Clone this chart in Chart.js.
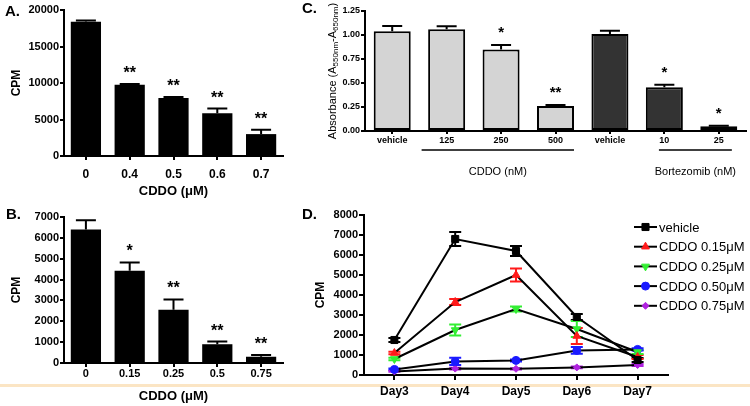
<!DOCTYPE html>
<html>
<head>
<meta charset="utf-8">
<script src="https://cdn.jsdelivr.net/npm/chart.js@4.4.1/dist/chart.umd.min.js"></script>
<style>
  body { margin: 0; background: #fff; width: 750px; height: 406px; position: relative; overflow: hidden;
         font-family: "Liberation Sans", Arial, sans-serif; }
  .panel { position: absolute; }
  .tag { position: absolute; font-weight: bold; font-size: 15px; line-height: 16px; }
  #sep { position: absolute; left: 0; top: 384px; width: 750px; height: 3px; background: #fbe5c4; }
</style>
</head>
<body>
<div id="sep"></div>
<div class="panel" style="left:0;top:0"><canvas id="chartA" width="300" height="200"></canvas></div>
<div class="panel" style="left:0;top:200px"><canvas id="chartB" width="300" height="206"></canvas></div>
<div class="panel" style="left:260px;top:0"><canvas id="chartC" width="490" height="200"></canvas></div>
<div class="panel" style="left:260px;top:200px"><canvas id="chartD" width="490" height="206"></canvas></div>
<div class="tag" style="left:5px;top:3px">A.</div>
<div class="tag" style="left:6px;top:206px">B.</div>
<div class="tag" style="left:302px;top:0px">C.</div>
<div class="tag" style="left:302px;top:206px">D.</div>

<script>
const FONT = '"Liberation Sans", Arial, sans-serif';
Chart.defaults.font.family = FONT;
Chart.defaults.color = '#000';

// panel A
const catsA = ['0', '0.4', '0.5', '0.6', '0.7'];
const valsA = [18400, 9750, 7950, 5850, 3000];
const errA = [150, 120, 120, 650, 580];
const starsA = ['', '**', '**', '**', '**'];

// panel B
const catsB = ['0', '0.15', '0.25', '0.5', '0.75'];
const valsB = [6400, 4420, 2550, 900, 300];
const errB = [450, 400, 500, 130, 80];
const starsB = ['', '*', '**', '**', '**'];

// panel C
const catsC = ['vehicle', '125', '250', '500', 'vehicle', '10', '25'];
const valsC = [1.04, 1.06, 0.85, 0.26, 1.01, 0.455, 0.05];
const errC = [0.055, 0.03, 0.045, 0.01, 0.035, 0.027, 0.005];
const starsC = ['', '', '*', '**', '', '*', '*'];
const groupsC = [
  { label: 'CDDO (nM)', from: 0.54, to: 3.34 },
  { label: 'Bortezomib (nM)', from: 4.9, to: 6.24 }
];

// panel D
const days = ['Day3', 'Day4', 'Day5', 'Day6', 'Day7'];
const seriesD = [
  { name: 'vehicle',        color: '#000000', style: 'rect',     rot: 0,   r: 5,   vals: [1750, 6800, 6200, 2900, 750],  err: [100, 350, 250, 150, 100] },
  { name: 'CDDO 0.15\u03bcM', color: '#ff1a1a', style: 'triangle', rot: 0,   r: 4.5, vals: [1100, 3650, 5000, 1950, 900],  err: [60, 150, 320, 400, 100] },
  { name: 'CDDO 0.25\u03bcM', color: '#33ee33', style: 'triangle', rot: 180, r: 4.5, vals: [800, 2250, 3300, 2300, 1150],  err: [60, 280, 130, 400, 100] },
  { name: 'CDDO 0.50\u03bcM', color: '#1a1aff', style: 'circle',   rot: 0,   r: 4,   vals: [280, 680, 730, 1230, 1280],    err: [40, 180, 50, 170, 60] },
  { name: 'CDDO 0.75\u03bcM', color: '#b022e0', style: 'rectRot',  rot: 0,   r: 3.5, vals: [180, 320, 310, 380, 500],      err: [20, 40, 30, 40, 50] }
];

function fixedWidth(w) { return function (axis) { axis.width = w; }; }
function fixedHeight(h) { return function (axis) { axis.height = h; }; }

// error bars (upper only) + significance stars on a bar chart
function barExtras(errors, stars, cap, gap, starSize) {
  return {
    id: 'barExtras',
    afterDatasetsDraw(chart) {
      const ctx = chart.ctx;
      const y = chart.scales.y;
      const vals = chart.data.datasets[0].data;
      const meta = chart.getDatasetMeta(0);
      ctx.save();
      ctx.strokeStyle = '#000';
      ctx.fillStyle = '#000';
      ctx.lineWidth = 2;
      ctx.font = 'bold ' + starSize + 'px ' + FONT;
      ctx.textAlign = 'center';
      ctx.textBaseline = 'alphabetic';
      meta.data.forEach((bar, i) => {
        const base = y.getPixelForValue(vals[i]);
        const top = y.getPixelForValue(vals[i] + errors[i]);
        ctx.beginPath();
        ctx.moveTo(bar.x, base);
        ctx.lineTo(bar.x, top);
        ctx.moveTo(bar.x - cap / 2, top);
        ctx.lineTo(bar.x + cap / 2, top);
        ctx.stroke();
        if (stars[i]) ctx.fillText(stars[i], bar.x, top - gap);
      });
      ctx.restore();
    }
  };
}

function barChart(id, cats, vals, colors, yMax, yStep, opts) {
  return new Chart(document.getElementById(id), {
    type: 'bar',
    data: {
      labels: cats,
      datasets: [{
        data: vals,
        backgroundColor: colors,
        borderColor: '#000',
        borderWidth: opts.borderWidth,
        borderSkipped: false,
        barPercentage: opts.barPct,
        categoryPercentage: 1
      }]
    },
    options: {
      responsive: false,
      animation: false,
      layout: { padding: opts.padding },
      plugins: { legend: { display: false }, tooltip: { enabled: false } },
      scales: {
        x: {
          offset: true,
          afterFit: fixedHeight(opts.xHeight),
          grid: { offset: false, drawOnChartArea: false, color: '#000', lineWidth: 2, tickLength: opts.xTick },
          border: { color: '#000', width: 2 },
          ticks: { font: { size: opts.xFont, weight: 'bold' }, padding: opts.xPad, maxRotation: 0, autoSkip: false },
          title: opts.xTitle ? { display: true, text: opts.xTitle, font: { size: 13, weight: 'bold' }, padding: { top: 0, bottom: opts.xTitlePad } } : { display: false }
        },
        y: {
          min: 0, max: yMax,
          afterFit: fixedWidth(opts.yWidth),
          grid: { drawOnChartArea: false, color: '#000', lineWidth: 2, tickLength: opts.yTick },
          border: { color: '#000', width: 2 },
          ticks: { stepSize: yStep, font: { size: opts.yFont, weight: 'bold' }, padding: 1, callback: opts.yFmt },
          title: opts.yTitle ? { display: true, text: opts.yTitle, font: { size: 12, weight: 'bold' }, padding: { top: opts.yTitlePad, bottom: 0 } } : { display: false }
        }
      }
    },
    plugins: opts.plugins
  });
}

barChart('chartA', catsA, valsA, '#000', 20000, 5000, {
  borderWidth: 0, barPct: 0.69, padding: { left: 0, top: 10, right: 17, bottom: 0 },
  xHeight: 44, xTick: 4, xFont: 12, xPad: 7, xTitle: 'CDDO (\u03bcM)', xTitlePad: 1,
  yWidth: 64, yTick: 4, yFont: 11, yTitle: 'CPM', yTitlePad: 9, yFmt: v => String(v),
  plugins: [barExtras(errA, starsA, 20, 6, 16)]
});

barChart('chartB', catsB, valsB, '#000', 7000, 1000, {
  borderWidth: 0, barPct: 0.69, padding: { left: 0, top: 17, right: 17, bottom: 0 },
  xHeight: 43, xTick: 4, xFont: 11, xPad: 0, xTitle: 'CDDO (\u03bcM)', xTitlePad: 1.5,
  yWidth: 64, yTick: 4, yFont: 11, yTitle: 'CPM', yTitlePad: 9, yFmt: v => String(v),
  plugins: [barExtras(errB, starsB, 20, 6, 16)]
});

// panel C: group underlines, group labels and the subscripted y title
const panelCExtras = {
  id: 'panelCExtras',
  afterDraw(chart) {
    const ctx = chart.ctx;
    const x = chart.scales.x;
    const area = chart.chartArea;
    ctx.save();
    ctx.strokeStyle = '#000';
    ctx.fillStyle = '#000';
    ctx.lineWidth = 1.5;
    ctx.font = '11px ' + FONT;
    ctx.textAlign = 'center';
    ctx.textBaseline = 'middle';
    groupsC.forEach(g => {
      const x0 = x.getPixelForValue(g.from);
      const x1 = x.getPixelForValue(g.to);
      ctx.beginPath();
      ctx.moveTo(x0, area.bottom + 19);
      ctx.lineTo(x1, area.bottom + 19);
      ctx.stroke();
      ctx.fillText(g.label, (x0 + x1) / 2, area.bottom + 41);
    });

    const parts = [['Absorbance (A', false], ['550nm', true], ['-A', false], ['650nm', true], [')', false]];
    const big = '11px ' + FONT, small = '8px ' + FONT;
    let total = 0;
    parts.forEach(p => { ctx.font = p[1] ? small : big; total += ctx.measureText(p[0]).width; });
    ctx.translate(area.left - 33, (area.top + area.bottom) / 2);
    ctx.rotate(-Math.PI / 2);
    ctx.textAlign = 'left';
    ctx.textBaseline = 'alphabetic';
    let cx = -total / 2;
    parts.forEach(p => {
      ctx.font = p[1] ? small : big;
      ctx.fillText(p[0], cx, p[1] ? 6 : 4);
      cx += ctx.measureText(p[0]).width;
    });
    ctx.restore();
  }
};

barChart('chartC', catsC, valsC, catsC.map((c, i) => i < 4 ? '#d4d4d4' : '#333333'), 1.25, 0.25, {
  borderWidth: 2, barPct: 0.68, padding: { left: 0, top: 11, right: 4, bottom: 0 },
  xHeight: 69, xTick: 3, xFont: 9, xPad: 1, xTitle: null,
  yWidth: 105, yTick: 4, yFont: 9, yTitle: null, yFmt: v => v.toFixed(2),
  plugins: [barExtras(errC, starsC, 20, 8, 15), panelCExtras]
});

// panel D: error bars and an in-plot legend
const panelDExtras = {
  id: 'panelDExtras',
  beforeDatasetsDraw(chart) {
    const ctx = chart.ctx;
    const y = chart.scales.y;
    ctx.save();
    ctx.lineWidth = 2;
    seriesD.forEach((s, di) => {
      const meta = chart.getDatasetMeta(di);
      ctx.strokeStyle = s.color;
      meta.data.forEach((pt, i) => {
        const hi = y.getPixelForValue(s.vals[i] + s.err[i]);
        const lo = y.getPixelForValue(s.vals[i] - s.err[i]);
        ctx.beginPath();
        ctx.moveTo(pt.x, lo); ctx.lineTo(pt.x, hi);
        ctx.moveTo(pt.x - 6, hi); ctx.lineTo(pt.x + 6, hi);
        ctx.moveTo(pt.x - 6, lo); ctx.lineTo(pt.x + 6, lo);
        ctx.stroke();
      });
    });
    ctx.restore();
  },
  afterDraw(chart) {
    const ctx = chart.ctx;
    ctx.save();
    ctx.font = '13px ' + FONT;
    ctx.textBaseline = 'middle';
    ctx.textAlign = 'left';
    seriesD.forEach((s, i) => {
      const yy = 27 + i * 19.7;
      ctx.strokeStyle = '#000';
      ctx.lineWidth = 2;
      ctx.beginPath();
      ctx.moveTo(374, yy); ctx.lineTo(397, yy);
      ctx.stroke();
      ctx.fillStyle = s.color;
      ctx.strokeStyle = s.color;
      ctx.lineWidth = 1;
      Chart.helpers.drawPoint(ctx, { pointStyle: s.style, radius: s.r, rotation: s.rot, borderWidth: 1 }, 385.5, yy);
      ctx.fillStyle = '#000';
      ctx.fillText(s.name, 399, yy + 1);
    });
    ctx.restore();
  }
};

new Chart(document.getElementById('chartD'), {
  type: 'line',
  data: {
    labels: days,
    datasets: seriesD.map(s => ({
      label: s.name,
      data: s.vals,
      borderColor: '#000',
      borderWidth: 2,
      pointStyle: s.style,
      pointRotation: s.rot,
      pointRadius: s.r,
      pointBackgroundColor: s.color,
      pointBorderColor: s.color,
      pointBorderWidth: 1,
      tension: 0
    }))
  },
  options: {
    responsive: false,
    animation: false,
    layout: { padding: { left: 0, top: 15, right: 82, bottom: 0 } },
    plugins: { legend: { display: false }, tooltip: { enabled: false } },
    scales: {
      x: {
        offset: true,
        afterFit: fixedHeight(31),
        grid: { offset: false, drawOnChartArea: false, color: '#000', lineWidth: 2, tickLength: 5 },
        border: { color: '#000', width: 2 },
        ticks: { font: { size: 12, weight: 'bold' }, padding: 4, maxRotation: 0 }
      },
      y: {
        min: 0, max: 8000,
        afterFit: fixedWidth(104),
        grid: { drawOnChartArea: false, color: '#000', lineWidth: 2, tickLength: 5 },
        border: { color: '#000', width: 2 },
        ticks: { stepSize: 1000, font: { size: 11, weight: 'bold' }, padding: 1, callback: v => String(v) },
        title: { display: true, text: 'CPM', font: { size: 12, weight: 'bold' }, padding: { top: 53, bottom: 0 } }
      }
    }
  },
  plugins: [panelDExtras]
});
</script>
</body>
</html>
